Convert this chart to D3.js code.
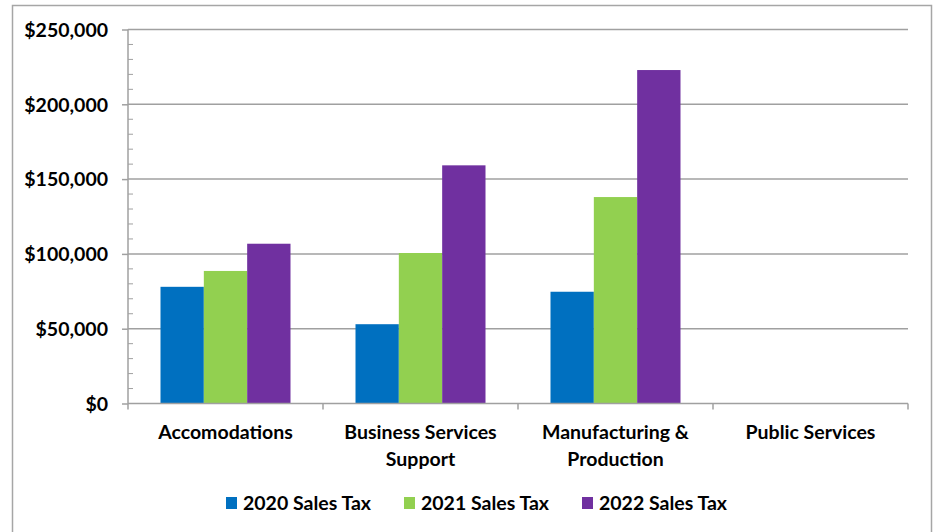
<!DOCTYPE html>
<meta charset="utf-8">
<style>
    body { margin: 0; background: #fff; }
    svg text { font-family: "Lato", "Open Sans", sans-serif; font-weight: bold; fill: #000; }
</style>
<svg width="938" height="532"></svg>
<script src="https://d3js.org/d3.v7.min.js"></script>
<script>
    // chart data
    var categories = ["Accomodations", "Business Services Support", "Manufacturing & Production", "Public Services"];
    var categoryLines = [["Accomodations"], ["Business Services", "Support"], ["Manufacturing &", "Production"], ["Public Services"]];
    var seriesNames = ["2020 Sales Tax", "2021 Sales Tax", "2022 Sales Tax"];
    var sales2020 = [78000, 53000, 74700, 0];
    var sales2021 = [88600, 100600, 138000, 0];
    var sales2022 = [106800, 159200, 222900, 0];
    var yTicks = [0, 50000, 100000, 150000, 200000, 250000];
    var colors = ["#0070c0", "#92d050", "#7030a0"];

    var series = [sales2020, sales2021, sales2022];

    var svg = d3.select("svg");
    var plotLeft = 128, plotRight = 908, plotTop = 29.5, plotBottom = 403.5;
    var fontSize = "19.5px";

    // outer frame
    svg.append("rect")
        .attr("x", 12.5).attr("y", 5.5)
        .attr("width", 919).attr("height", 540)
        .attr("fill", "none")
        .attr("stroke", "#a6a6a6")
        .attr("stroke-width", 1.5);

    var x = d3.scaleBand().domain(categories).range([plotLeft, plotRight]);
    var xInner = d3.scaleBand().domain(seriesNames)
        .range([0, x.bandwidth()])
        .paddingOuter(0.75);
    var y = d3.scaleLinear().domain([0, 250000]).range([plotBottom, plotTop]);

    // gridlines
    svg.append("g").selectAll("line")
        .data(yTicks.slice(1))
        .enter().append("line")
        .attr("x1", plotLeft).attr("x2", plotRight)
        .attr("y1", d => y(d)).attr("y2", d => y(d))
        .attr("stroke", "#a0a0a0")
        .attr("stroke-width", 1.5);

    // minor ticks
    svg.append("g").selectAll("line")
        .data(d3.range(0, 250001, 10000).filter(d => d % 50000 != 0))
        .enter().append("line")
        .attr("x1", plotLeft).attr("x2", plotLeft + 5)
        .attr("y1", d => y(d)).attr("y2", d => y(d))
        .attr("stroke", "#a0a0a0")
        .attr("stroke-width", 1);

    // bars
    var groups = svg.append("g").selectAll("g")
        .data(series)
        .enter().append("g")
        .attr("fill", (d, i) => colors[i]);

    groups.selectAll("rect")
        .data((d, i) => d.map((v, j) => ({ cat: categories[j], s: seriesNames[i], v: v })))
        .enter().append("rect")
        .attr("x", d => x(d.cat) + xInner(d.s))
        .attr("width", xInner.bandwidth())
        .attr("y", d => y(d.v))
        .attr("height", d => plotBottom - y(d.v));

    // y axis
    var yAxis = svg.append("g")
        .attr("transform", "translate(" + plotLeft + ",0)")
        .call(d3.axisLeft(y).tickValues(yTicks).tickSize(6).tickPadding(14)
            .tickFormat(d => "$" + d3.format(",")(d)));
    yAxis.select(".domain").attr("stroke", "#a0a0a0").attr("stroke-width", 1.5)
        .attr("d", "M0," + plotTop + "V" + plotBottom);
    yAxis.selectAll(".tick line").attr("stroke", "#a0a0a0").attr("stroke-width", 1.5);
    yAxis.selectAll("text").style("font-size", fontSize).attr("dy", "0.35em");

    // x axis
    var xAxis = svg.append("g")
        .attr("transform", "translate(0," + plotBottom + ")");
    xAxis.append("line")
        .attr("x1", plotLeft).attr("x2", plotRight)
        .attr("stroke", "#a0a0a0").attr("stroke-width", 1.5);
    xAxis.selectAll(".ctick")
        .data(categories.map(c => x(c)).concat([plotRight]))
        .enter().append("line")
        .attr("x1", d => d).attr("x2", d => d)
        .attr("y1", 0).attr("y2", 6)
        .attr("stroke", "#a0a0a0").attr("stroke-width", 1.5);

    var labels = xAxis.selectAll(".clabel")
        .data(categories)
        .enter().append("text")
        .attr("text-anchor", "middle")
        .attr("x", d => x(d) + x.bandwidth() / 2)
        .attr("y", 35)
        .style("font-size", fontSize);
    labels.selectAll("tspan")
        .data((d, i) => categoryLines[i])
        .enter().append("tspan")
        .attr("x", function () { return d3.select(this.parentNode).attr("x"); })
        .attr("dy", (d, i) => i == 0 ? 0 : 27)
        .text(d => d);

    // legend
    var legendX = [226, 404, 582];
    var legend = svg.append("g").selectAll("g")
        .data(seriesNames)
        .enter().append("g")
        .attr("transform", (d, i) => "translate(" + legendX[i] + ",497)");
    legend.append("rect")
        .attr("width", 11).attr("height", 12)
        .attr("fill", (d, i) => colors[i]);
    legend.append("text")
        .attr("x", 17).attr("y", 12.5)
        .style("font-size", fontSize)
        .text(d => d);
</script>
